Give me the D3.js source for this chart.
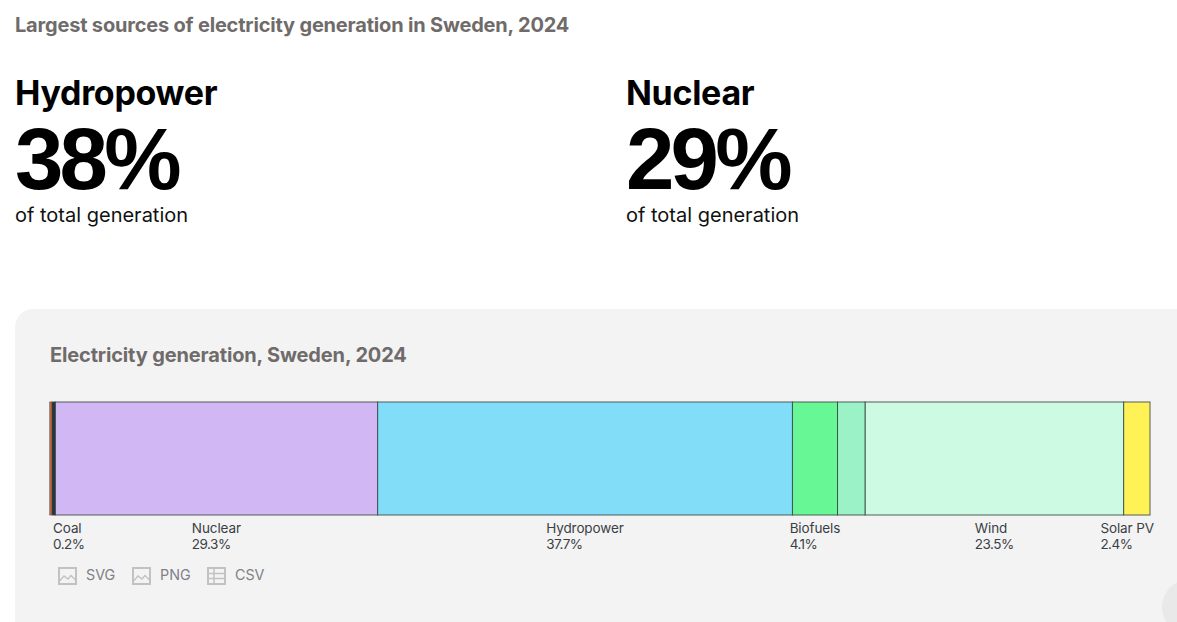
<!DOCTYPE html>
<html>
<head>
<meta charset="utf-8">
<title>Electricity generation, Sweden, 2024</title>
<script src="https://cdn.jsdelivr.net/npm/d3@7/dist/d3.min.js"></script>
<style>
html,body{margin:0;padding:0;background:#fff;overflow:hidden}
svg{display:block;font-family:Inter,"Noto Sans",sans-serif}
</style>
</head>
<body>
<div id="chart"></div>
<script>
// Generation shares in percent, in stacking order
const sources = ["Coal", "Natural gas", "Nuclear", "Hydropower", "Biofuels", "Waste", "Wind", "Solar PV"];
const shares = [0.2, 0.3, 29.3, 37.7, 4.1, 2.5, 23.5, 2.4];
const fills = ["#c8623a", "#26343f", "#d1b8f5", "#82ddf8", "#67f895", "#9bf2c6", "#cdfae3", "#fff256"];
// Only these segments carry a label beneath the bar
const labelled = ["Coal", "Nuclear", "Hydropower", "Biofuels", "Wind", "Solar PV"];
const headlines = [
  {name: "Hydropower", value: "38%", x: 15},
  {name: "Nuclear", value: "29%", x: 626}
];
const exportLinks = [
  {label: "SVG", kind: "image", x: 58},
  {label: "PNG", kind: "image", x: 132},
  {label: "CSV", kind: "table", x: 207}
];

const W = 1177, H = 622;
const svg = d3.select("#chart").append("svg").attr("width", W).attr("height", H);

svg.append("text").attr("x", 15).attr("y", 32)
  .attr("font-size", 20).attr("font-weight", 700).attr("fill", "#6f6b6b")
  .attr("letter-spacing", -0.19)
  .text("Largest sources of electricity generation in Sweden, 2024");

const heads = svg.selectAll("g.head").data(headlines).join("g")
  .attr("class", "head").attr("transform", d => `translate(${d.x},0)`);
heads.append("text").attr("y", 105).attr("font-size", 34).attr("font-weight", 700)
  .attr("letter-spacing", -0.3).attr("fill", "#000").text(d => d.name);
heads.append("text").attr("y", 189).attr("font-size", 87).attr("font-weight", 700)
  .attr("font-family", "'Liberation Sans'")
  .attr("letter-spacing", -3.8).attr("fill", "#000").text(d => d.value);
heads.append("text").attr("y", 222).attr("font-size", 20).attr("font-weight", 400)
  .attr("fill", "#111").text("of total generation");

// Panel behind the chart; it runs off the right edge of the page
svg.append("rect").attr("x", 15).attr("y", 309).attr("width", W + 40).attr("height", H)
  .attr("rx", 18).attr("fill", "#f3f3f3");
svg.append("circle").attr("cx", 1190).attr("cy", 607).attr("r", 28).attr("fill", "#e9e9e9");

svg.append("text").attr("x", 50).attr("y", 362)
  .attr("font-size", 20).attr("font-weight", 700).attr("fill", "#6f6b6b")
  .attr("letter-spacing", -0.15)
  .text("Electricity generation, Sweden, 2024");

// Stacked bar
const x = d3.scaleLinear().domain([0, d3.sum(shares)]).range([49.7, 1150]);
const y = d3.scaleLinear().domain([0, 1]).range([402, 515]);
const cumulative = d3.cumsum(shares);
const segments = sources.map((name, i) => ({
  name, value: shares[i], fill: fills[i],
  start: cumulative[i] - shares[i], end: cumulative[i]
}));

// The thin first segment goes on top with a fine outline so its fill stays visible
svg.append("g").selectAll("rect").data(segments.slice().reverse()).join("rect")
  .attr("x", d => x(d.start)).attr("y", y(0))
  .attr("width", d => x(d.end) - x(d.start)).attr("height", y(1) - y(0))
  .attr("fill", d => d.fill)
  .attr("stroke", "#3a4540").attr("stroke-opacity", .85)
  .attr("stroke-width", d => d.name === "Coal" ? 0.5 : 1);

// Labels sit centred under their segment, kept clear of the panel's edges
const labels = svg.append("g").selectAll("g").data(segments.filter(d => labelled.includes(d.name))).join("g");
labels.append("text").attr("y", 533).attr("font-size", 13.5).attr("letter-spacing", -0.1)
  .attr("fill", "#3a3f45").text(d => d.name);
labels.append("text").attr("y", 549).attr("font-size", 13.5).attr("letter-spacing", -0.5)
  .attr("fill", "#3a3f45").text(d => d.value.toFixed(1) + "%");
labels.attr("transform", function (d) {
  const w = this.getBBox().width;
  const c = x((d.start + d.end) / 2);
  return `translate(${Math.min(Math.max(c - w / 2, 53), 1154 - w)},0)`;
});

// Download links
const links = svg.append("g").selectAll("g").data(exportLinks).join("g")
  .attr("transform", d => `translate(${d.x},567)`);
links.append("rect").attr("x", 1).attr("y", 1).attr("width", 17).attr("height", 16)
  .attr("fill", "none").attr("stroke", "#c2c2c2").attr("stroke-width", 2);
links.filter(d => d.kind === "image").append("path")
  .attr("d", "M1.5 14 L6 9 L10 12 L13 8.5 L17.5 13")
  .attr("fill", "none").attr("stroke", "#c2c2c2").attr("stroke-width", 1.3);
links.filter(d => d.kind === "table").append("path")
  .attr("d", "M7 1V17M1 6.5H18M1 11.5H18")
  .attr("fill", "none").attr("stroke", "#c2c2c2").attr("stroke-width", 1.5);
links.append("text").attr("x", 28).attr("y", 13).attr("font-size", 14.3).attr("fill", "#7d8186").text(d => d.label);
</script>
</body>
</html>
